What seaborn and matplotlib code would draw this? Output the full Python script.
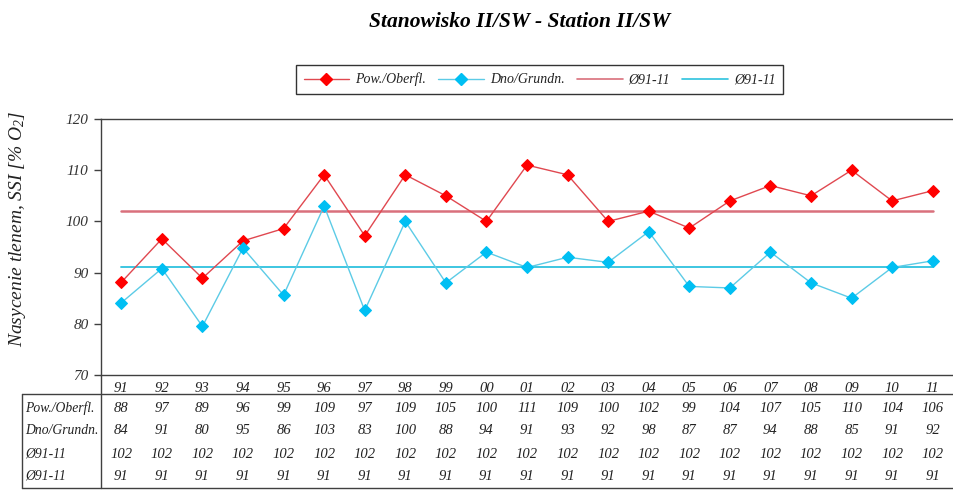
import numpy as np
import pandas as pd
import matplotlib
matplotlib.use("Agg")
import matplotlib.pyplot as plt
from matplotlib.lines import Line2D
import seaborn as sns

# values
years = ["91", "92", "93", "94", "95", "96", "97", "98", "99", "00", "01",
         "02", "03", "04", "05", "06", "07", "08", "09", "10", "11"]
pow_vals = [88.1, 96.6, 88.9, 96.2, 98.6, 109.1, 97.2, 109.1, 105.0, 100.0, 111.0,
            109.1, 100.0, 102.0, 98.7, 104.0, 107.0, 105.0, 110.0, 104.0, 106.0]
dno_vals = [84.1, 90.8, 79.5, 94.8, 85.6, 103.0, 82.6, 100.0, 88.0, 94.0, 91.0,
            93.0, 92.0, 98.0, 87.3, 87.0, 94.0, 88.0, 85.0, 91.0, 92.3]

# table rows as printed under the chart
tab_pow = [88, 97, 89, 96, 99, 109, 97, 109, 105, 100, 111, 109, 100, 102, 99, 104, 107, 105, 110, 104, 106]
tab_dno = [84, 91, 80, 95, 86, 103, 83, 100, 88, 94, 91, 93, 92, 98, 87, 87, 94, 88, 85, 91, 92]
tab_mean_pow = [102, 102, 102, 102, 102, 102, 102, 102, 102, 102, 102,
                102, 102, 102, 102, 102, 102, 102, 102, 102, 102]
tab_mean_dno = [91, 91, 91, 91, 91, 91, 91, 91, 91, 91, 91,
                91, 91, 91, 91, 91, 91, 91, 91, 91, 91]
row_labels = ["Pow./Oberfl.", "Dno/Grundn.", "Ø91-11", "Ø91-11"]

RED = "#FF0000"
RED_LINE = "#E04850"
RED_MEAN = "#D9707C"
BLUE = "#00BFF3"
BLUE_LINE = "#5CCBE6"
BLUE_MEAN = "#2EC2DE"
DARK = "#404040"

sns.set_theme(style="white")
plt.rcParams["font.family"] = ["Liberation Serif", "DejaVu Serif"]
plt.rcParams["mathtext.fontset"] = "custom"
plt.rcParams["mathtext.it"] = "Liberation Serif:italic"
plt.rcParams["mathtext.rm"] = "Liberation Serif:italic"

W, H = 954, 491


def fx(px):
    return px / W


def fy(py):
    return 1 - py / H


df = pd.DataFrame({"pos": np.arange(len(years)), "pow": pow_vals, "dno": dno_vals,
                   "mpow": tab_mean_pow, "mdno": tab_mean_dno})

fig = plt.figure(figsize=(W / 100, H / 100), dpi=100)
ax = fig.add_axes([fx(101), fy(375), fx(953 - 101), (375 - 119) / H])

sns.lineplot(data=df, x="pos", y="mpow", ax=ax, color=RED_MEAN, lw=1.8)
sns.lineplot(data=df, x="pos", y="mdno", ax=ax, color=BLUE_MEAN, lw=1.3)
sns.lineplot(data=df, x="pos", y="pow", ax=ax, color=RED_LINE, lw=1.0,
             marker="D", markersize=6.5, markerfacecolor=RED, markeredgecolor=RED)
sns.lineplot(data=df, x="pos", y="dno", ax=ax, color=BLUE_LINE, lw=1.0,
             marker="D", markersize=6.5, markerfacecolor=BLUE, markeredgecolor=BLUE)

ax.set_xlim(-0.5, len(years) - 0.5)
ax.set_ylim(70, 120)
ax.set_yticks(range(70, 121, 10))
ax.set_xticks(df["pos"])
ax.set_xticklabels(years, fontstyle="italic", fontsize=10.5, color="#222222")
ax.tick_params(axis="x", length=0, pad=5)
ax.tick_params(axis="y", length=5, width=1, color=DARK, direction="out",
               labelsize=11, labelcolor="#333333", pad=4, left=True)
for lbl in ax.get_yticklabels():
    lbl.set_fontstyle("italic")
ax.set_xlabel("")
ax.set_ylabel("")
for side in ["top", "left", "bottom"]:
    ax.spines[side].set_color(DARK)
    ax.spines[side].set_linewidth(1.0)
ax.spines["right"].set_visible(False)

fig.text(fx(18), fy(229), r"Nasycenie tlenem, SSI [% $O_2$]", rotation=90,
         ha="center", va="center", fontsize=14, fontstyle="italic", color="#222222")

fig.text(fx(520), fy(22), "Stanowisko II/SW - Station II/SW", ha="center", va="center",
         fontsize=15.5, fontweight="bold", fontstyle="italic", color="black")

# legend
handles = [
    Line2D([], [], color=RED_LINE, lw=1.0, marker="D", markersize=6,
           markerfacecolor=RED, markeredgecolor=RED),
    Line2D([], [], color=BLUE_LINE, lw=1.0, marker="D", markersize=6,
           markerfacecolor=BLUE, markeredgecolor=BLUE),
    Line2D([], [], color=RED_MEAN, lw=1.2),
    Line2D([], [], color=BLUE_MEAN, lw=1.2),
]
leg = fig.legend(handles, ["Pow./Oberfl.", "Dno/Grundn.", "Ø91-11", "Ø91-11"],
                 loc="center", bbox_to_anchor=(fx(539.5), fy(79.5)), ncol=4,
                 frameon=True, fancybox=False, edgecolor="#333333", framealpha=1,
                 handlelength=3.3, columnspacing=0.9, handletextpad=0.4,
                 borderpad=0.55, prop={"style": "italic", "size": 10})
leg.get_frame().set_linewidth(1.0)
for t in leg.get_texts():
    t.set_color("#222222")

# data table under the axis
rows = [tab_pow, tab_dno, tab_mean_pow, tab_mean_dno]
row_py = [408, 431, 454, 476]
tr = ax.get_xaxis_transform()
for vals, label, py in zip(rows, row_labels, row_py):
    ya = (375 - py) / (375 - 119)
    fig.text(fx(25), fy(py), label, ha="left", va="center", fontsize=9.8,
             fontstyle="italic", color="#222222")
    for i, v in enumerate(vals):
        ax.text(i, ya, str(v), transform=tr, ha="center", va="center",
                fontsize=10.5, fontstyle="italic", color="#222222", clip_on=False)

for xs, ys in [([22, 953], [394, 394]), ([22, 953], [488, 488]),
               ([22, 22], [394, 488]), ([101, 101], [375, 488])]:
    fig.add_artist(Line2D([fx(x) for x in xs], [fy(y) for y in ys],
                          transform=fig.transFigure, color=DARK, lw=1.0))

fig.savefig("out.png", dpi=100, facecolor="white")
